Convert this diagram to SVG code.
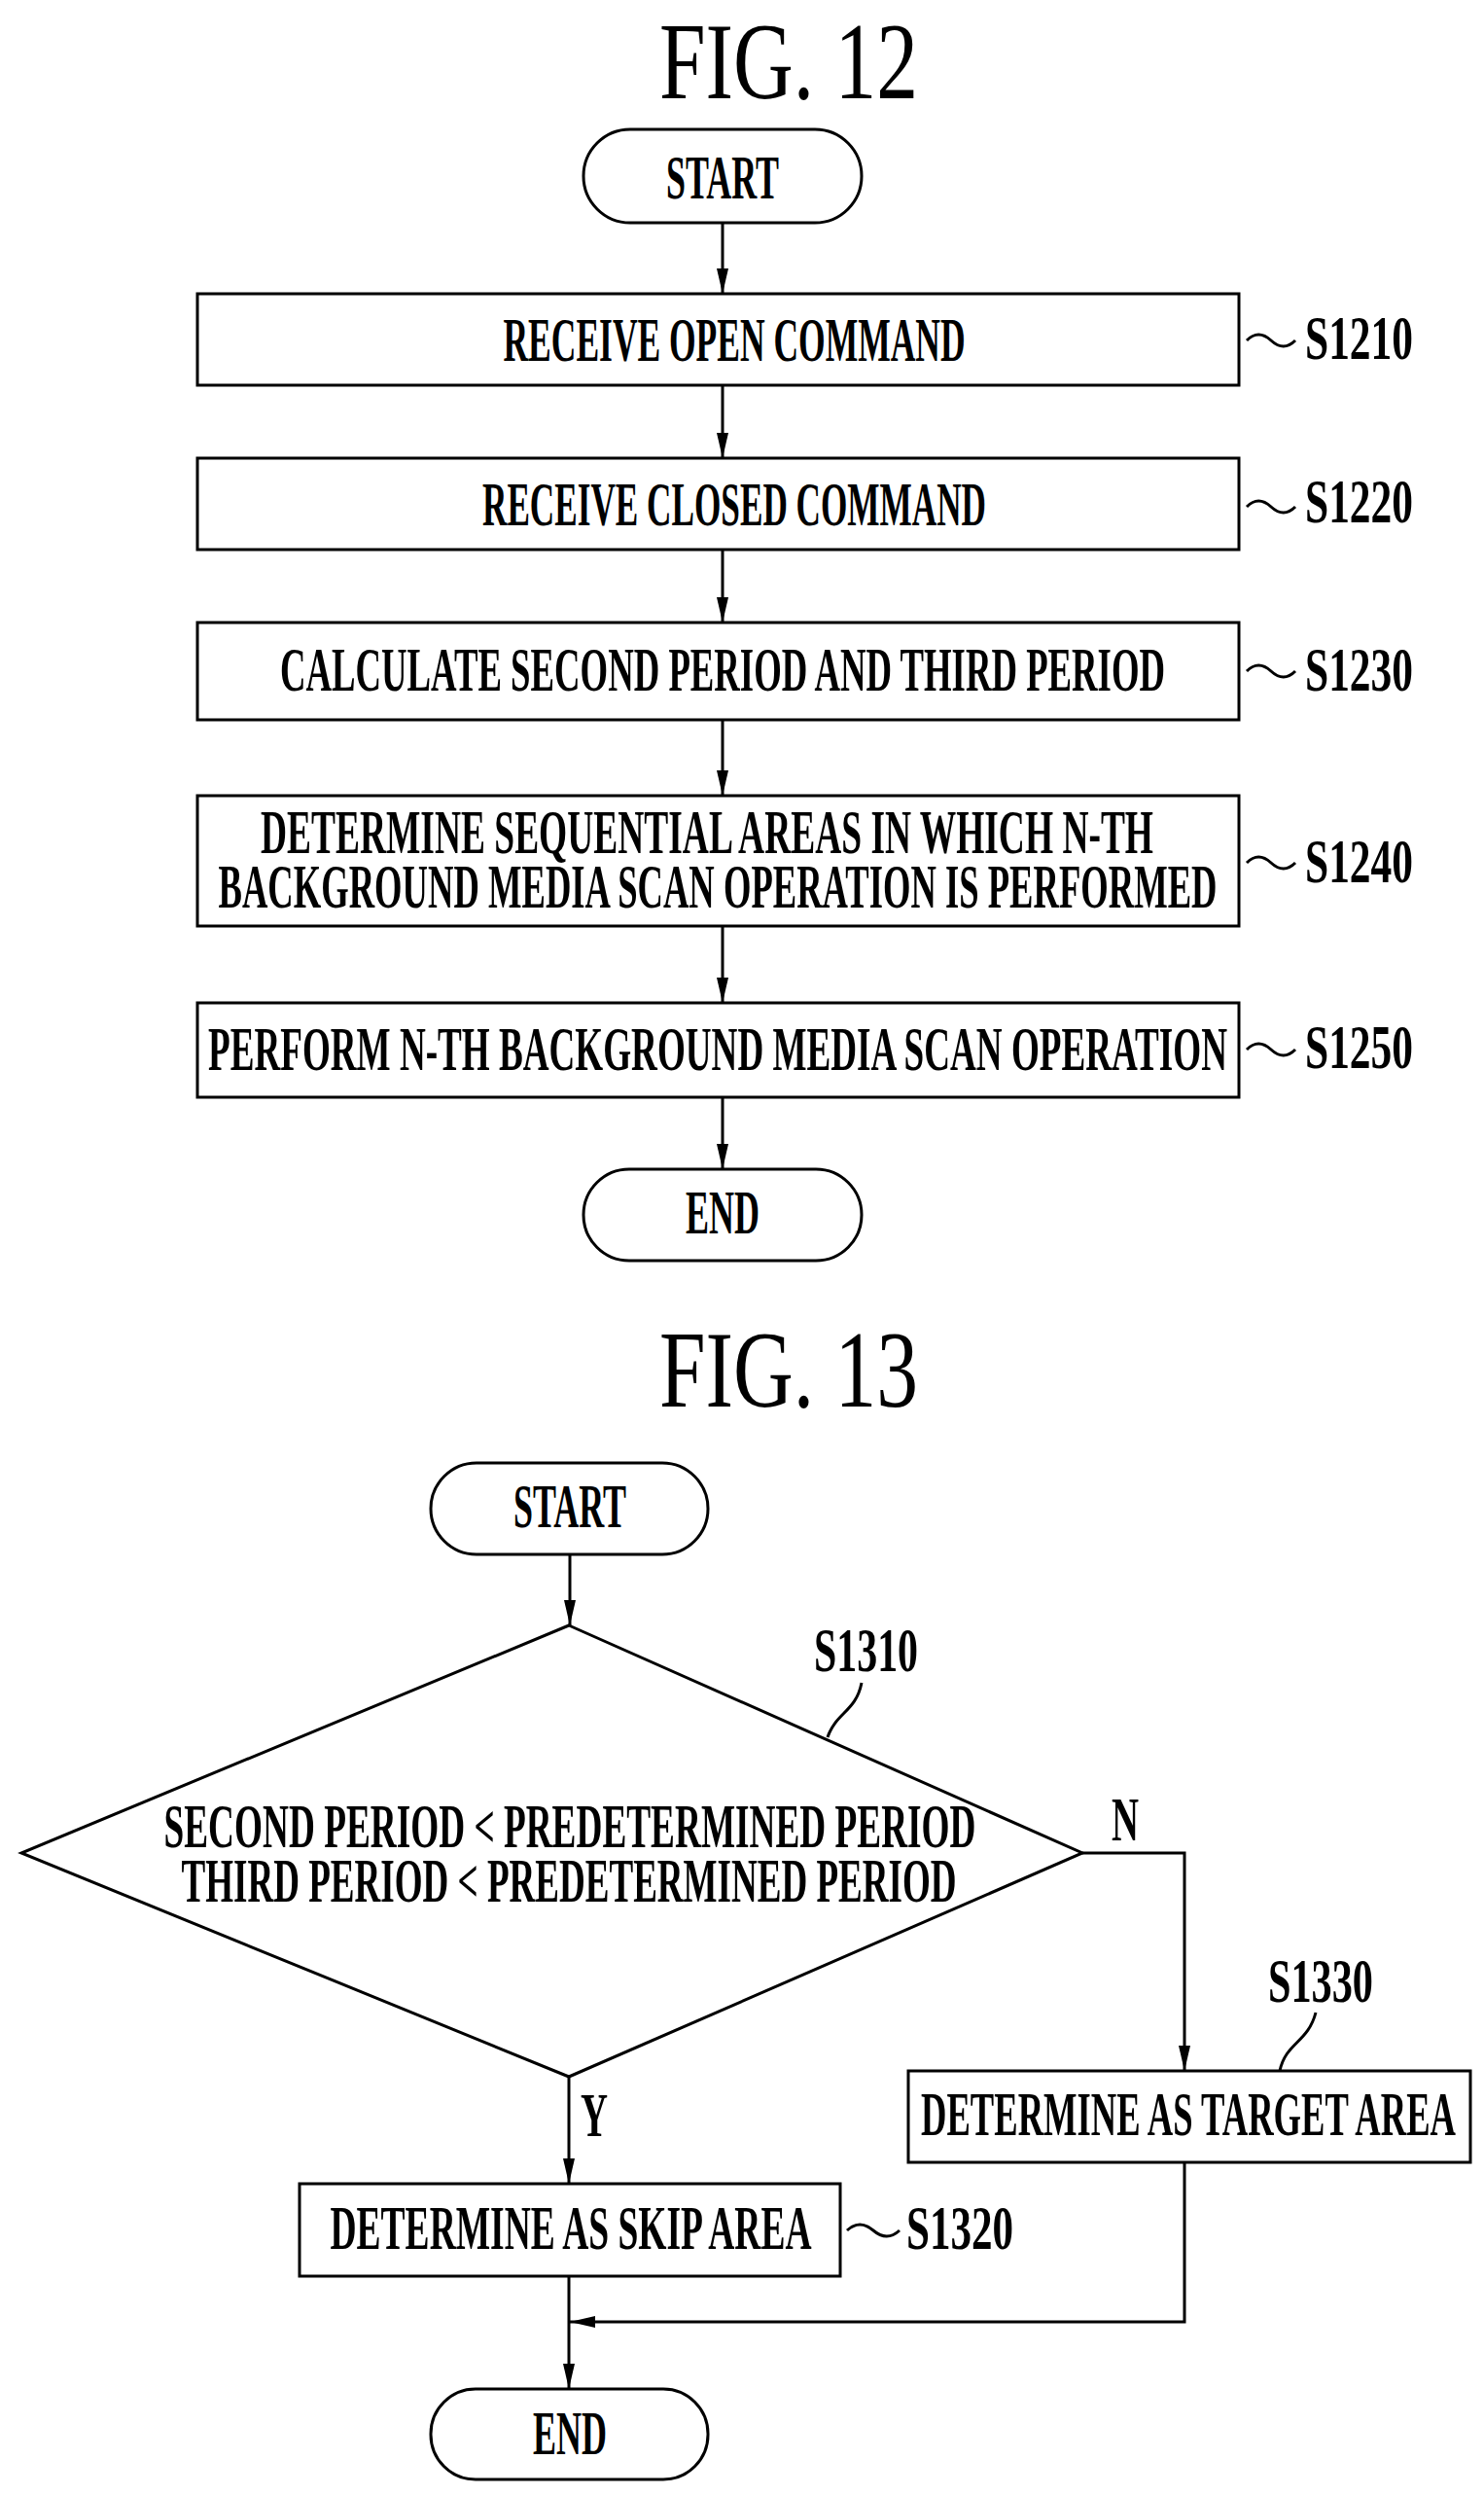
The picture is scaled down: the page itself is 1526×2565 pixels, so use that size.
<svg xmlns="http://www.w3.org/2000/svg" width="1526" height="2565" viewBox="0 0 1526 2565">
<defs>
<style>
.s{fill:none;stroke:#000;stroke-width:3}
.b{fill:#fff;stroke:#000;stroke-width:3}
text{font-family:"Liberation Serif","DejaVu Serif",serif;fill:#000}
.t{font-size:64px;font-weight:bold;text-anchor:middle}
.l{font-size:64px;font-weight:bold}
.f{font-size:112px;text-anchor:middle}
</style>
<marker id="a" markerWidth="26" markerHeight="12" refX="26" refY="6" orient="auto" markerUnits="userSpaceOnUse" viewBox="0 0 26 12"><path d="M0,0 L26,6 L0,12 Z" fill="#000"/></marker>
</defs>
<text class="f" x="811" y="101" textLength="266" lengthAdjust="spacingAndGlyphs">FIG. 12</text>
<g id="start12"><rect class="b" x="600" y="133" width="286" height="96" rx="48"/><text class="t" x="743" y="204" textLength="116" lengthAdjust="spacingAndGlyphs">START</text></g>
<g id="s1210"><rect class="b" x="203" y="302" width="1071" height="94"/><text class="t" x="755" y="371" textLength="475" lengthAdjust="spacingAndGlyphs">RECEIVE OPEN COMMAND</text><path class="s" d="M1282,350 q12,-12 25,0 t25,0"/><text class="l" x="1342" y="369" textLength="111" lengthAdjust="spacingAndGlyphs">S1210</text></g>
<g id="s1220"><rect class="b" x="203" y="471" width="1071" height="94"/><text class="t" x="755" y="540" textLength="518" lengthAdjust="spacingAndGlyphs">RECEIVE CLOSED COMMAND</text><path class="s" d="M1282,521 q12,-12 25,0 t25,0"/><text class="l" x="1342" y="537" textLength="111" lengthAdjust="spacingAndGlyphs">S1220</text></g>
<g id="s1230"><rect class="b" x="203" y="640" width="1071" height="100"/><text class="t" x="743" y="710" textLength="910" lengthAdjust="spacingAndGlyphs">CALCULATE SECOND PERIOD AND THIRD PERIOD</text><path class="s" d="M1282,690 q12,-12 25,0 t25,0"/><text class="l" x="1342" y="710" textLength="111" lengthAdjust="spacingAndGlyphs">S1230</text></g>
<g id="s1240"><rect class="b" x="203" y="818" width="1071" height="134"/><text class="t" x="727" y="877" textLength="918" lengthAdjust="spacingAndGlyphs">DETERMINE SEQUENTIAL AREAS IN WHICH N-TH</text><text class="t" x="738" y="933" textLength="1027" lengthAdjust="spacingAndGlyphs">BACKGROUND MEDIA SCAN OPERATION IS PERFORMED</text><path class="s" d="M1282,887 q12,-12 25,0 t25,0"/><text class="l" x="1342" y="907" textLength="111" lengthAdjust="spacingAndGlyphs">S1240</text></g>
<g id="s1250"><rect class="b" x="203" y="1031" width="1071" height="97"/><text class="t" x="738" y="1100" textLength="1048" lengthAdjust="spacingAndGlyphs">PERFORM N-TH BACKGROUND MEDIA SCAN OPERATION</text><path class="s" d="M1282,1079 q12,-12 25,0 t25,0"/><text class="l" x="1342" y="1098" textLength="111" lengthAdjust="spacingAndGlyphs">S1250</text></g>
<g id="end12"><rect class="b" x="600" y="1202" width="286" height="94" rx="47"/><text class="t" x="743" y="1268" textLength="76" lengthAdjust="spacingAndGlyphs">END</text></g>

<text class="f" x="811" y="1446" textLength="266" lengthAdjust="spacingAndGlyphs">FIG. 13</text>
<g id="start13"><rect class="b" x="443" y="1504" width="285" height="94" rx="47"/><text class="t" x="586" y="1570" textLength="116" lengthAdjust="spacingAndGlyphs">START</text></g>
<g id="s1310"><path class="b" d="M585,1671 L1113,1905 L585,2135 L22,1905 Z"/><text class="t" x="586" y="1899" textLength="835" lengthAdjust="spacingAndGlyphs">SECOND PERIOD &lt; PREDETERMINED PERIOD</text><text class="t" x="585" y="1955" textLength="797" lengthAdjust="spacingAndGlyphs">THIRD PERIOD &lt; PREDETERMINED PERIOD</text><path class="s" d="M851,1786 C860,1760 880,1760 886,1730"/><text class="l" x="837" y="1718" textLength="107" lengthAdjust="spacingAndGlyphs">S1310</text></g>
<g id="s1330"><rect class="b" x="934" y="2129" width="578" height="94"/><text class="t" x="1222" y="2195" textLength="550" lengthAdjust="spacingAndGlyphs">DETERMINE AS TARGET AREA</text><path class="s" d="M1316,2129 C1322,2100 1345,2100 1353,2069"/><text class="l" x="1304" y="2058" textLength="108" lengthAdjust="spacingAndGlyphs">S1330</text></g>
<g id="s1320"><rect class="b" x="308" y="2245" width="556" height="95"/><text class="t" x="587" y="2312" textLength="495" lengthAdjust="spacingAndGlyphs">DETERMINE AS SKIP AREA</text><path class="s" d="M871,2293 q13,-12 27,0 t27,0"/><text class="l" x="932" y="2312" textLength="110" lengthAdjust="spacingAndGlyphs">S1320</text></g>
<g id="end13"><rect class="b" x="443" y="2456" width="285" height="93" rx="46"/><text class="t" x="586" y="2523" textLength="76" lengthAdjust="spacingAndGlyphs">END</text></g>

<g id="connectors">
<path class="s" d="M743,229 V302" marker-end="url(#a)"/>
<path class="s" d="M743,396 V471" marker-end="url(#a)"/>
<path class="s" d="M743,565 V640" marker-end="url(#a)"/>
<path class="s" d="M743,740 V818" marker-end="url(#a)"/>
<path class="s" d="M743,952 V1031" marker-end="url(#a)"/>
<path class="s" d="M743,1128 V1202" marker-end="url(#a)"/>
<path class="s" d="M586,1598 V1671" marker-end="url(#a)"/>
<path class="s" d="M1113,1905 H1218 V2129" marker-end="url(#a)"/>
<path class="s" d="M585,2135 V2245" marker-end="url(#a)"/>
<path class="s" d="M585,2340 V2456" marker-end="url(#a)"/>
<path class="s" d="M1218,2223 V2387 H586" marker-end="url(#a)"/>
<text class="l" x="1143" y="1892" textLength="28" lengthAdjust="spacingAndGlyphs">N</text>
<text class="l" x="597" y="2196" textLength="28" lengthAdjust="spacingAndGlyphs">Y</text>
</g>
</svg>
